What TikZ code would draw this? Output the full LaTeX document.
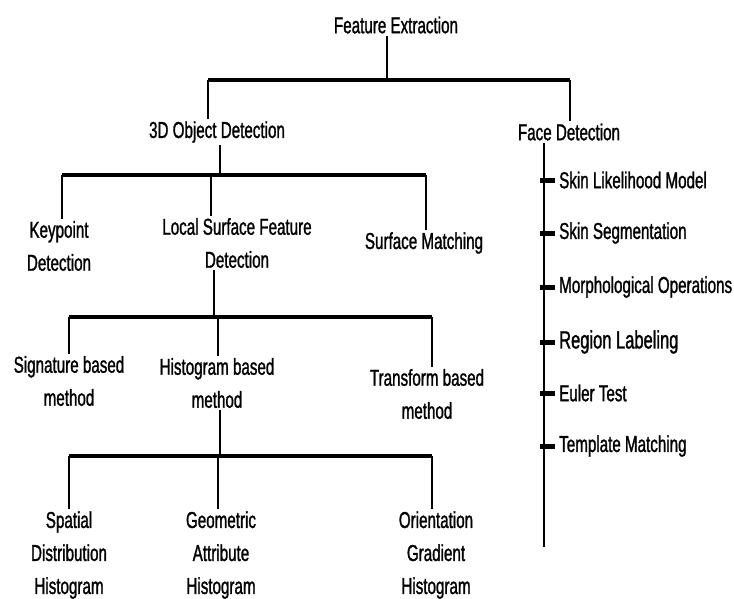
\documentclass[tikz,border=0pt]{standalone}
\usepackage{fontspec}
\newfontfamily\treefont{Liberation Sans}[FakeStretch=0.66,FakeBold=1.2]

\begin{document}
\begin{tikzpicture}[x=1pt,y=-1pt,
  lbl/.style={font=\treefont\fontsize{23}{33}\selectfont, align=center, inner sep=2pt},
  stem/.style={line width=2.8pt},
  bar/.style={line width=4.5pt},
  tick/.style={line width=5pt}]
\useasboundingbox (0,0) rectangle (734,598);
\begin{scope}
% labels of the tree
\node[lbl] (fe) at (396,25) {Feature Extraction};
\node[lbl] (od) at (217,132) {3D Object Detection};
\node[lbl] (fd) at (569,132) {Face Detection};
\node[lbl] (kp) at (59,246) {Keypoint\\Detection};
\node[lbl] (ls) at (237,243) {Local Surface Feature\\Detection};
\node[lbl] (sm) at (424,243) {Surface Matching};
\node[lbl] (sg) at (69,381) {Signature based\\method};
\node[lbl] (hg) at (217,383) {Histogram based\\method};
\node[lbl] (tf) at (427,394) {Transform based\\method};
\node[lbl] (sd) at (69,555) {Spatial\\Distribution\\Histogram};
\node[lbl] (ga) at (221,555) {Geometric\\Attribute\\Histogram};
\node[lbl] (og) at (436,555) {Orientation\\Gradient\\Histogram};

% feature extraction
\coordinate (b1l) at (208,80);
\coordinate (b1r) at (570,80);
\draw[stem] (fe.south -| 387,0) -- (387,80);
\draw[bar] (b1l) -- (b1r);
\draw[stem] (b1l) -- (b1l |- od.north);
\draw[stem] (b1r) -- (b1r |- fd.north);

% 3d object detection
\coordinate (b2l) at (62,175);
\coordinate (b2m) at (211,175);
\coordinate (b2r) at (426,175);
\draw[stem] (od.south -| 220,0) -- (220,175);
\draw[bar] (b2l) -- (b2r);
\draw[stem] (b2l) -- (b2l |- kp.north);
\draw[stem] (b2m) -- (b2m |- ls.north);
\draw[stem] (b2r) -- (b2r |- sm.north);

% local surface feature detection
\coordinate (b3l) at (69,317);
\coordinate (b3m) at (218,317);
\coordinate (b3r) at (432,317);
\draw[stem] (ls.south -| 214,0) -- (214,317);
\draw[bar] (b3l) -- (b3r);
\draw[stem] (b3l) -- (b3l |- sg.north);
\draw[stem] (b3m) -- (b3m |- hg.north);
\draw[stem] (b3r) -- (b3r |- tf.north);

% histogram based method
\coordinate (b4l) at (69,456);
\coordinate (b4m) at (218,456);
\coordinate (b4r) at (432,456);
\draw[stem] (hg.south -| 220,0) -- (220,456);
\draw[bar] (b4l) -- (b4r);
\draw[stem] (b4l) -- (b4l |- sd.north);
\draw[stem] (b4m) -- (b4m |- ga.north);
\draw[stem] (b4r) -- (b4r |- og.north);

% face detection
\coordinate (fdend) at (544,547);
\draw[stem] (fd.south -| fdend) -- (fdend);
\foreach \i/\y/\fs/\txt in {1/180/23/Skin Likelihood Model,
    2/233/23/Skin Segmentation,
    3/287/23/Morphological Operations,
    4/342/25/Region Labeling,
    5/393/23/Euler Test,
    6/446/23/Template Matching} {
  \node[lbl, anchor=west, font=\treefont\fontsize{\fs}{33}\selectfont] (f\i) at (557,\y) {\txt};
  \draw[tick] (fdend |- f\i.west) ++(-4,0) -- ++(15,0);
}
\end{scope}
\end{tikzpicture}
\end{document}
